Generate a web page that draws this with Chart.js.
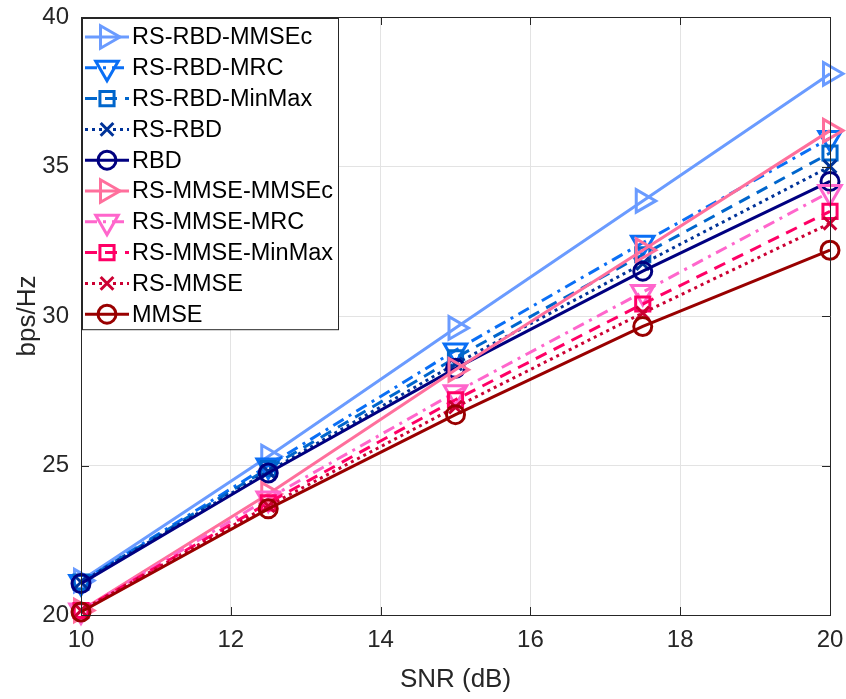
<!DOCTYPE html>
<html>
<head>
<meta charset="utf-8">
<script src="https://cdn.jsdelivr.net/npm/chart.js@4"></script>
<style>
  html, body { margin: 0; padding: 0; background: #fff; }
  #wrap { width: 846px; height: 699px; }
</style>
</head>
<body>
<div id="wrap"><canvas id="myChart"></canvas></div>
<script>
var snr = [10, 12.5, 15, 17.5, 20];
var seriesNames = ["RS-RBD-MMSEc", "RS-RBD-MRC", "RS-RBD-MinMax", "RS-RBD", "RBD",
                   "RS-MMSE-MMSEc", "RS-MMSE-MRC", "RS-MMSE-MinMax", "RS-MMSE", "MMSE"];
var rsRbdMmsec   = [21.15, 25.3, 29.6, 33.85, 38.1];
var rsRbdMrc     = [21.1, 25.0, 28.85, 32.45, 35.95];
var rsRbdMinmax  = [21.1, 24.9, 28.6, 32.05, 35.45];
var rsRbd        = [21.1, 24.8, 28.4, 31.75, 35.0];
var rbd          = [21.05, 24.75, 28.25, 31.5, 34.5];
var rsMmseMmsec  = [20.15, 24.05, 28.2, 32.2, 36.2];
var rsMmseMrc    = [20.15, 23.9, 27.45, 30.8, 34.15];
var rsMmseMinmax = [20.15, 23.75, 27.2, 30.4, 33.5];
var rsMmse       = [20.15, 23.65, 26.95, 30.1, 33.1];
var mmse         = [20.1, 23.55, 26.7, 29.65, 32.2];
var xTicks = [10, 12, 14, 16, 18, 20];
var yTicks = [20, 25, 30, 35, 40];

var FONT = "'Liberation Sans', Arial, sans-serif";
var dashed = [12, 8];
var dashDot = [12, 6, 3, 6];
var dotted = [3, 4];

function pts(ys) {
  return snr.map(function (x, i) { return { x: x, y: ys[i] }; });
}

function series(i, ys, color, dash, style, rot, r) {
  return {
    label: seriesNames[i],
    data: pts(ys),
    borderColor: color,
    borderWidth: 3,
    borderDash: dash,
    pointStyle: style,
    rotation: rot,
    pointRadius: r,
    pointHoverRadius: r,
    pointBorderWidth: 3,
    pointBorderColor: color,
    pointBackgroundColor: "rgba(0,0,0,0)",
    fill: false,
    tension: 0,
    clip: false,
    order: 10 - i,
  };
}

var datasets = [
  series(0, rsRbdMmsec, "#6a9bff", [], "triangle", 90, 13),
  series(1, rsRbdMrc, "#0a6ff5", dashDot, "triangle", 180, 13),
  series(2, rsRbdMinmax, "#0066cc", dashed, "rect", 0, 10),
  series(3, rsRbd, "#003399", dotted, "crossRot", 0, 9),
  series(4, rbd, "#000080", [], "circle", 0, 9),
  series(5, rsMmseMmsec, "#ff6f9c", [], "triangle", 90, 13),
  series(6, rsMmseMrc, "#ff66cc", dashDot, "triangle", 180, 13),
  series(7, rsMmseMinmax, "#ff0066", dashed, "rect", 0, 10),
  series(8, rsMmse, "#cc0033", dotted, "crossRot", 0, 9),
  series(9, mmse, "#990000", [], "circle", 0, 9),
];

// box around the axes with inward ticks
var axesBox = {
  id: "axesBox",
  afterDatasetsDraw: function (chart) {
    var ctx = chart.ctx, a = chart.chartArea;
    var xs = chart.scales.x, ys = chart.scales.y;
    ctx.save();
    ctx.strokeStyle = "#262626";
    ctx.lineWidth = 1;
    ctx.setLineDash([]);
    ctx.beginPath();
    ctx.rect(a.left + 0.5, a.top + 0.5, a.right - a.left, a.bottom - a.top);
    xTicks.forEach(function (t) {
      var px = Math.round(xs.getPixelForValue(t)) + 0.5;
      ctx.moveTo(px, a.bottom); ctx.lineTo(px, a.bottom - 8);
      ctx.moveTo(px, a.top); ctx.lineTo(px, a.top + 8);
    });
    yTicks.forEach(function (t) {
      var py = Math.round(ys.getPixelForValue(t)) + 0.5;
      ctx.moveTo(a.left, py); ctx.lineTo(a.left + 8, py);
      ctx.moveTo(a.right, py); ctx.lineTo(a.right - 8, py);
    });
    ctx.stroke();
    ctx.restore();
  },
};

// MATLAB style legend box in the upper left corner
var legendBox = {
  id: "legendBox",
  afterDraw: function (chart) {
    var ctx = chart.ctx, a = chart.chartArea;
    var x0 = a.left + 1, y0 = a.top + 1;
    var w = 256, rowH = 30.8, h = 19 + rowH * 9 + 15;
    ctx.save();
    ctx.fillStyle = "#fff";
    ctx.fillRect(x0, y0, w, h);
    ctx.strokeStyle = "#262626";
    ctx.lineWidth = 1;
    ctx.strokeRect(x0 + 0.5, y0 + 0.5, w, h);
    ctx.font = "23.5px " + FONT;
    ctx.textBaseline = "middle";
    chart.data.datasets.forEach(function (ds, i) {
      var cy = y0 + 19 + i * rowH;
      ctx.strokeStyle = ds.borderColor;
      ctx.lineWidth = 3;
      ctx.setLineDash(ds.borderDash);
      ctx.beginPath();
      ctx.moveTo(x0 + 3, cy);
      ctx.lineTo(x0 + 47, cy);
      ctx.stroke();
      ctx.setLineDash([]);
      ctx.fillStyle = "rgba(0,0,0,0)";
      ctx.strokeStyle = ds.borderColor;
      Chart.helpers.drawPoint(ctx, {
        pointStyle: ds.pointStyle,
        rotation: ds.rotation,
        radius: ds.pointRadius,
        borderWidth: 3,
      }, x0 + 25, cy);
      ctx.fillStyle = "#000";
      ctx.fillText(ds.label, x0 + 50, cy + 1);
    });
    ctx.restore();
  },
};

var ctx = document.getElementById("myChart").getContext("2d");
var myChart = new Chart(ctx, {
  type: "line",
  data: { datasets: datasets },
  options: {
    responsive: true,
    maintainAspectRatio: false,
    animation: false,
    layout: { padding: { top: 17, right: 16, left: 0, bottom: 0 } },
    plugins: {
      legend: { display: false },
      tooltip: { enabled: false },
    },
    scales: {
      x: {
        type: "linear",
        min: 10,
        max: 20,
        afterBuildTicks: function (scale) {
          scale.ticks = xTicks.map(function (v) { return { value: v }; });
        },
        afterFit: function (scale) {
          scale.height = 84;
          scale.paddingLeft = 0;
          scale.paddingRight = 0;
        },
        ticks: { color: "#262626", font: { size: 24, family: FONT }, padding: 11, maxRotation: 0 },
        grid: { color: "#e3e3e3", lineWidth: 1, drawTicks: false },
        border: { color: "#262626" },
        title: {
          display: true,
          text: "SNR (dB)",
          color: "#262626",
          font: { size: 26, family: FONT },
          padding: { top: 4, bottom: 4 },
        },
      },
      y: {
        type: "linear",
        min: 20,
        max: 40,
        afterBuildTicks: function (scale) {
          scale.ticks = yTicks.map(function (v) { return { value: v }; });
        },
        afterFit: function (scale) {
          scale.width = 81;
          scale.paddingTop = 0;
          scale.paddingBottom = 0;
        },
        ticks: { color: "#262626", font: { size: 24, family: FONT }, padding: 12 },
        grid: { color: "#e3e3e3", lineWidth: 1, drawTicks: false },
        border: { color: "#262626" },
        title: {
          display: true,
          text: "bps/Hz",
          color: "#262626",
          font: { size: 26, family: FONT },
          padding: { top: 12, bottom: 6 },
        },
      },
    },
  },
  plugins: [axesBox, legendBox],
});
</script>
</body>
</html>
